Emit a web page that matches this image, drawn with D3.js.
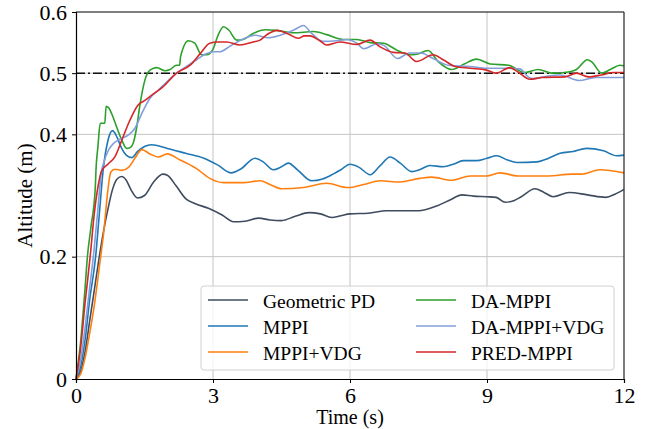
<!DOCTYPE html>
<html>
<head>
<meta charset="utf-8">
<script src="https://cdn.jsdelivr.net/npm/d3@7"></script>
<style>
    body { margin: 0; background: #fff; }
    #chart { width: 656px; height: 429px; }
    text { font-family: "Liberation Serif", "Times New Roman", serif; fill: #000; }
</style>
</head>
<body>
<div id="chart"></div>
<script>
// data: [time (s), altitude (m)]
const geometricPD = [[0,0],[0.1,0.012],[0.2,0.045],[0.3,0.095],[0.4,0.145],[0.5,0.195],[0.6,0.24],[0.7,0.278],[0.8,0.31],[0.9,0.327],[1.0,0.331],[1.1,0.325],[1.2,0.31],[1.35,0.296],[1.5,0.3],[1.7,0.322],[1.9,0.335],[2.0,0.333],[2.2,0.315],[2.4,0.295],[2.6,0.287],[2.9,0.279],[3.2,0.268],[3.45,0.257],[3.7,0.258],[4.0,0.263],[4.25,0.26],[4.5,0.259],[4.8,0.266],[5.1,0.272],[5.35,0.27],[5.6,0.264],[5.8,0.267],[6.0,0.27],[6.4,0.271],[6.8,0.275],[7.1,0.275],[7.5,0.275],[7.9,0.283],[8.2,0.293],[8.45,0.301],[8.7,0.299],[9.0,0.298],[9.2,0.297],[9.4,0.289],[9.6,0.292],[9.75,0.298],[10.05,0.311],[10.25,0.305],[10.45,0.298],[10.8,0.305],[11.2,0.301],[11.6,0.297],[11.8,0.302],[12,0.31]];

const mppi = [[0,0],[0.1,0.02],[0.2,0.065],[0.3,0.13],[0.43,0.2],[0.5,0.26],[0.6,0.345],[0.7,0.39],[0.8,0.406],[0.9,0.395],[1.0,0.377],[1.1,0.366],[1.22,0.362],[1.35,0.372],[1.5,0.38],[1.65,0.383],[2.0,0.377],[2.4,0.369],[2.8,0.361],[3.1,0.35],[3.4,0.337],[3.6,0.343],[3.92,0.361],[4.1,0.355],[4.32,0.342],[4.5,0.347],[4.65,0.353],[4.85,0.342],[5.16,0.324],[5.4,0.327],[5.63,0.335],[5.8,0.342],[6.0,0.351],[6.2,0.346],[6.44,0.334],[6.65,0.348],[6.88,0.363],[7.1,0.353],[7.35,0.339],[7.55,0.343],[7.75,0.349],[8.04,0.347],[8.26,0.351],[8.48,0.357],[8.77,0.357],[9.0,0.361],[9.21,0.365],[9.45,0.358],[9.65,0.354],[10.09,0.355],[10.35,0.361],[10.6,0.369],[10.89,0.372],[11.18,0.377],[11.55,0.373],[11.84,0.365],[12,0.366]];

const mppiVdg = [[0,0],[0.1,0.008],[0.2,0.035],[0.3,0.075],[0.4,0.12],[0.54,0.2],[0.6,0.235],[0.7,0.31],[0.76,0.338],[0.85,0.343],[1.0,0.341],[1.15,0.346],[1.3,0.362],[1.44,0.375],[1.62,0.368],[1.8,0.363],[2.0,0.368],[2.28,0.358],[2.64,0.344],[2.93,0.328],[3.23,0.321],[3.66,0.321],[4.03,0.324],[4.25,0.318],[4.5,0.311],[4.98,0.313],[5.49,0.32],[5.96,0.313],[6.3,0.318],[6.66,0.324],[7.09,0.322],[7.53,0.328],[7.79,0.33],[8.23,0.325],[8.63,0.332],[8.99,0.332],[9.28,0.337],[9.68,0.332],[10.34,0.332],[10.85,0.335],[11.07,0.335],[11.47,0.342],[12,0.337]];

const daMppi = [[0,0],[0.1,0.06],[0.2,0.15],[0.25,0.2],[0.33,0.25],[0.42,0.31],[0.44,0.345],[0.48,0.38],[0.53,0.418],[0.63,0.418],[0.66,0.446],[0.72,0.443],[0.78,0.434],[0.89,0.412],[1.0,0.391],[1.11,0.377],[1.18,0.378],[1.25,0.385],[1.33,0.412],[1.4,0.448],[1.51,0.489],[1.62,0.505],[1.77,0.509],[1.95,0.504],[2.06,0.506],[2.2,0.513],[2.27,0.513],[2.29,0.527],[2.46,0.553],[2.6,0.549],[2.75,0.53],[2.86,0.53],[3.0,0.539],[3.1,0.56],[3.23,0.576],[3.34,0.571],[3.52,0.554],[3.66,0.555],[3.88,0.565],[4.14,0.571],[4.39,0.57],[4.76,0.566],[5.2,0.568],[5.49,0.563],[5.85,0.555],[6.15,0.555],[6.44,0.55],[6.73,0.549],[7.02,0.538],[7.31,0.53],[7.46,0.531],[7.71,0.537],[7.93,0.519],[8.23,0.506],[8.5,0.515],[8.77,0.523],[9.07,0.515],[9.47,0.513],[9.83,0.501],[10.12,0.506],[10.42,0.5],[10.78,0.502],[10.96,0.506],[11.2,0.522],[11.3,0.518],[11.51,0.5],[11.7,0.506],[11.91,0.513],[12,0.512]];

const daMppiVdg = [[0,0],[0.1,0.03],[0.2,0.085],[0.3,0.15],[0.38,0.2],[0.47,0.27],[0.56,0.34],[0.6,0.352],[0.71,0.374],[0.82,0.385],[0.96,0.392],[1.15,0.399],[1.29,0.41],[1.44,0.434],[1.62,0.459],[1.8,0.472],[1.99,0.486],[2.2,0.5],[2.42,0.511],[2.64,0.522],[2.86,0.532],[3.0,0.535],[3.15,0.535],[3.37,0.544],[3.66,0.556],[3.92,0.562],[4.21,0.558],[4.47,0.562],[4.76,0.57],[4.98,0.578],[5.16,0.565],[5.41,0.552],[5.71,0.553],[5.93,0.555],[6.15,0.549],[6.3,0.54],[6.6,0.548],[6.75,0.545],[7.04,0.524],[7.3,0.533],[7.55,0.533],[7.82,0.524],[8.15,0.513],[8.63,0.511],[8.99,0.508],[9.43,0.508],[9.72,0.507],[9.9,0.494],[10.01,0.491],[10.3,0.495],[10.6,0.497],[11.02,0.488],[11.38,0.493],[11.77,0.493],[12,0.493]];

const predMppi = [[0,0],[0.1,0.05],[0.2,0.125],[0.31,0.2],[0.4,0.27],[0.49,0.318],[0.56,0.34],[0.71,0.352],[0.85,0.363],[1.0,0.39],[1.18,0.423],[1.36,0.448],[1.5,0.455],[1.66,0.464],[1.91,0.478],[2.2,0.5],[2.5,0.513],[2.72,0.532],[2.93,0.549],[3.1,0.551],[3.3,0.551],[3.59,0.546],[3.88,0.551],[4.03,0.554],[4.2,0.564],[4.4,0.57],[4.65,0.564],[4.87,0.557],[5.0,0.561],[5.12,0.561],[5.34,0.553],[5.49,0.546],[5.78,0.551],[6.15,0.547],[6.44,0.554],[6.66,0.543],[6.95,0.534],[7.2,0.533],[7.46,0.519],[7.82,0.53],[8.04,0.522],[8.3,0.511],[8.63,0.508],[8.99,0.505],[9.2,0.5],[9.5,0.509],[9.68,0.502],[9.94,0.49],[10.2,0.493],[10.71,0.494],[10.96,0.5],[11.22,0.494],[11.5,0.497],[11.77,0.501],[12,0.501]];

const seriesNames = ["Geometric PD", "MPPI", "MPPI+VDG", "DA-MPPI", "DA-MPPI+VDG", "PRED-MPPI"];
const seriesData = [geometricPD, mppi, mppiVdg, daMppi, daMppiVdg, predMppi];
const seriesColors = ["#3f4b5e", "#1f77b4", "#ff7f0e", "#2ca02c", "#829fdb", "#d62728"];

const xTicks = [0, 3, 6, 9, 12];
const yTicks = [0, 0.2, 0.4, 0.5, 0.6];
const reference = 0.5;

/*
SVG
*/
const width = 656;
const height = 429;
const margin = { top: 12, left: 76, right: 32, bottom: 50 };

const svg = d3.select("#chart")
    .append("svg")
    .attr("width", width)
    .attr("height", height);

/*
SCALES
*/
const xScale = d3.scaleLinear()
    .domain([0, 12])
    .range([margin.left, width - margin.right]);

const yScale = d3.scaleLinear()
    .domain([0, 0.6])
    .range([height - margin.bottom, margin.top]);

/*
GRID
*/
svg.append("g")
    .selectAll("line")
    .data(xTicks.slice(1, -1))
    .join("line")
    .attr("x1", d => xScale(d)).attr("x2", d => xScale(d))
    .attr("y1", yScale(0)).attr("y2", yScale(0.6))
    .attr("stroke", "#c4c4c4").attr("stroke-width", 1);

svg.append("g")
    .selectAll("line")
    .data(yTicks.slice(1, -1))
    .join("line")
    .attr("x1", xScale(0)).attr("x2", xScale(12))
    .attr("y1", d => yScale(d)).attr("y2", d => yScale(d))
    .attr("stroke", "#c4c4c4").attr("stroke-width", 1);

// reference altitude
svg.append("line")
    .attr("x1", xScale(0)).attr("x2", xScale(12))
    .attr("y1", yScale(reference)).attr("y2", yScale(reference))
    .attr("stroke", "#111")
    .attr("stroke-width", 1.5)
    .attr("stroke-dasharray", "9,3,2,3");

/*
LINES
*/
const line = d3.line()
    .x(d => xScale(d[0]))
    .y(d => yScale(d[1]))
    .curve(d3.curveMonotoneX);

seriesData.forEach(function (data, i) {
    svg.append("path")
        .datum(data)
        .attr("d", line)
        .attr("fill", "none")
        .attr("stroke", seriesColors[i])
        .attr("stroke-width", 1.6)
        .attr("stroke-linejoin", "round");
});

/*
AXES
*/
const xAxis = svg.append("g")
    .attr("transform", `translate(0,${yScale(0)})`)
    .call(d3.axisBottom(xScale).tickValues(xTicks).tickSize(4).tickPadding(4).tickFormat(d3.format("d")));

const yAxis = svg.append("g")
    .attr("transform", `translate(${xScale(0)},0)`)
    .call(d3.axisLeft(yScale).tickValues(yTicks).tickSize(4).tickPadding(5)
        .tickFormat(d => d === 0 ? "0" : d3.format(".1f")(d)));

[xAxis, yAxis].forEach(function (ax) {
    ax.select(".domain").attr("stroke", "#000").attr("stroke-width", 1.2);
    ax.selectAll(".tick line").attr("stroke", "#000");
    ax.selectAll(".tick text")
        .style("font-family", '"Liberation Serif", "Times New Roman", serif')
        .style("font-size", "22px")
        .attr("fill", "#000");
});

// top and right spines
svg.append("line")
    .attr("x1", xScale(0)).attr("x2", xScale(12))
    .attr("y1", yScale(0.6)).attr("y2", yScale(0.6))
    .attr("stroke", "#000").attr("stroke-width", 1.2);
svg.append("line")
    .attr("x1", xScale(12)).attr("x2", xScale(12))
    .attr("y1", yScale(0.6)).attr("y2", yScale(0))
    .attr("stroke", "#222").attr("stroke-width", 1.2);

/*
AXIS LABELS
*/
svg.append("text")
    .attr("x", xScale(6))
    .attr("y", 424)
    .attr("text-anchor", "middle")
    .style("font-size", "20px")
    .text("Time (s)");

svg.append("text")
    .attr("transform", `translate(32,${(yScale(0) + yScale(0.6)) / 2}) rotate(-90)`)
    .attr("text-anchor", "middle")
    .style("font-size", "21px")
    .text("Altitude (m)");

/*
LEGEND
*/
const legend = svg.append("g");

legend.append("rect")
    .attr("x", 201).attr("y", 286)
    .attr("width", 413).attr("height", 84)
    .attr("rx", 3)
    .attr("fill", "#fff")
    .attr("fill-opacity", 0.8)
    .attr("stroke", "#d0d0d0");

seriesNames.forEach(function (name, i) {
    const col = Math.floor(i / 3);
    const row = i % 3;
    const lx = col === 0 ? 208 : 416;
    const ly = 300 + row * 26;
    legend.append("line")
        .attr("x1", lx).attr("x2", lx + 40)
        .attr("y1", ly).attr("y2", ly)
        .attr("stroke", seriesColors[i])
        .attr("stroke-width", 1.6);
    legend.append("text")
        .attr("x", lx + 55)
        .attr("y", ly + 7.5)
        .style("font-size", "19.5px")
        .text(name);
});
</script>
</body>
</html>
